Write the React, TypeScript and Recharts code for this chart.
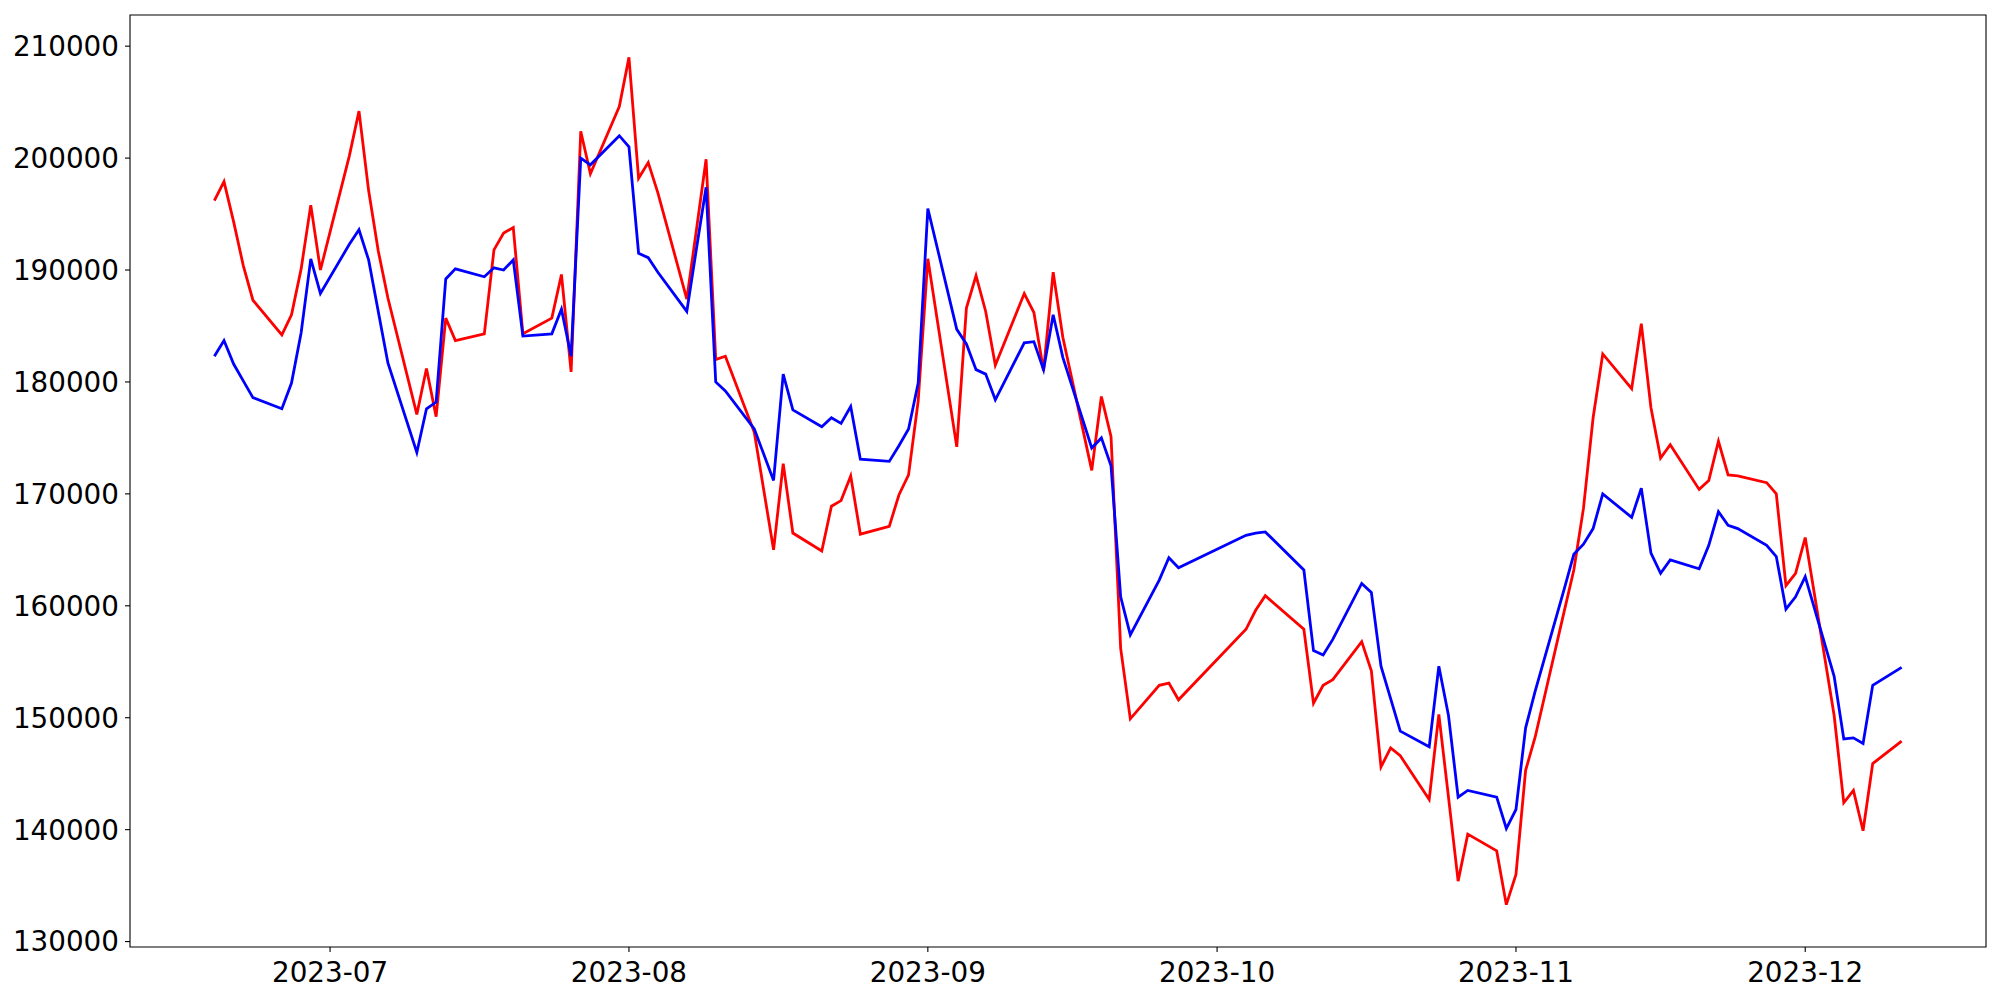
import { LineChart, Line, XAxis, YAxis, ReferenceArea } from "recharts"

// trading days (KRX calendar: no Aug 15, Sep 28-29, Oct 2-3, Oct 9)
const dates = [
  "2023-06-19", "2023-06-20", "2023-06-21", "2023-06-22", "2023-06-23",
  "2023-06-26", "2023-06-27", "2023-06-28", "2023-06-29", "2023-06-30",
  "2023-07-03", "2023-07-04", "2023-07-05", "2023-07-06", "2023-07-07",
  "2023-07-10", "2023-07-11", "2023-07-12", "2023-07-13", "2023-07-14",
  "2023-07-17", "2023-07-18", "2023-07-19", "2023-07-20", "2023-07-21",
  "2023-07-24", "2023-07-25", "2023-07-26", "2023-07-27", "2023-07-28",
  "2023-07-31", "2023-08-01", "2023-08-02", "2023-08-03", "2023-08-04",
  "2023-08-07", "2023-08-08", "2023-08-09", "2023-08-10", "2023-08-11",
  "2023-08-14", "2023-08-16", "2023-08-17", "2023-08-18",
  "2023-08-21", "2023-08-22", "2023-08-23", "2023-08-24", "2023-08-25",
  "2023-08-28", "2023-08-29", "2023-08-30", "2023-08-31", "2023-09-01",
  "2023-09-04", "2023-09-05", "2023-09-06", "2023-09-07", "2023-09-08",
  "2023-09-11", "2023-09-12", "2023-09-13", "2023-09-14", "2023-09-15",
  "2023-09-18", "2023-09-19", "2023-09-20", "2023-09-21", "2023-09-22",
  "2023-09-25", "2023-09-26", "2023-09-27",
  "2023-10-04", "2023-10-05", "2023-10-06",
  "2023-10-10", "2023-10-11", "2023-10-12", "2023-10-13",
  "2023-10-16", "2023-10-17", "2023-10-18", "2023-10-19", "2023-10-20",
  "2023-10-23", "2023-10-24", "2023-10-25", "2023-10-26", "2023-10-27",
  "2023-10-30", "2023-10-31", "2023-11-01", "2023-11-02", "2023-11-03",
  "2023-11-06", "2023-11-07", "2023-11-08", "2023-11-09", "2023-11-10",
  "2023-11-13", "2023-11-14", "2023-11-15", "2023-11-16", "2023-11-17",
  "2023-11-20", "2023-11-21", "2023-11-22", "2023-11-23", "2023-11-24",
  "2023-11-27", "2023-11-28", "2023-11-29", "2023-11-30", "2023-12-01",
  "2023-12-04", "2023-12-05", "2023-12-06", "2023-12-07", "2023-12-08",
  "2023-12-11",
]

const redValues = [
  196200, 197900, 194300, 190400, 187300,
  184200, 186000, 190100, 195800, 190000,
  200200, 204200, 197100, 191700, 187500,
  177100, 181200, 176900, 185700, 183700,
  184300, 191800, 193300, 193800, 184300,
  185700, 189600, 180900, 202400, 198600,
  204600, 209000, 198200, 199600, 196900,
  187400, 193600, 199900, 182000, 182300,
  175500, 165000, 172700, 166500,
  164900, 168900, 169400, 171600, 166400,
  167100, 169900, 171700, 178300, 191000,
  174200, 186600, 189500, 186300, 181500,
  187900, 186200, 181000, 189800, 184000,
  172100, 178700, 175100, 156200, 149900,
  152900, 153100, 151600,
  157900, 159600, 160900,
  157900, 151300, 152900, 153400,
  156800, 154200, 145600, 147300, 146600,
  142700, 150300, 142900, 135400, 139600,
  138100, 133300, 136000, 145300, 148300,
  159500, 163200, 168700, 176800, 182500,
  179400, 185200, 177700, 173200, 174400,
  170400, 171200, 174700, 171700, 171600,
  171000, 170000, 161800, 162900, 166100,
  150200, 142400, 143500, 139900, 145900,
  147900,
]

const blueValues = [
  182300, 183700, 181600, 180100, 178600,
  177600, 179900, 184400, 191000, 187900,
  192300, 193600, 190900, 186300, 181700,
  173700, 177600, 178200, 189200, 190100,
  189400, 190200, 190000, 190900, 184100,
  184300, 186500, 182300, 200000, 199400,
  202000, 201000, 191500, 191100, 189800,
  186300, 191900, 197400, 180000, 179200,
  175800, 171200, 180700, 177500,
  176000, 176800, 176300, 177800, 173100,
  172900, 174300, 175800, 179900, 195500,
  184700, 183400, 181100, 180700, 178400,
  183500, 183600, 181100, 186000, 182200,
  174100, 175000, 172500, 160800, 157400,
  162300, 164300, 163400,
  166300, 166500, 166600,
  163200, 156000, 155600, 157000,
  162000, 161200, 154600, 151700, 148800,
  147400, 154600, 150200, 142900, 143500,
  142900, 140100, 141800, 149100, 152400,
  161500, 164600, 165500, 166900, 170000,
  167900, 170500, 164700, 162900, 164100,
  163300, 165400, 168400, 167200, 166900,
  165400, 164400, 159700, 160800, 162600,
  153700, 148100, 148200, 147700, 152900,
  154500,
]

const monthTicks = ["2023-07", "2023-08", "2023-09", "2023-10", "2023-11", "2023-12"]
const yTicks = [130000, 140000, 150000, 160000, 170000, 180000, 190000, 200000, 210000]

const toTs = (s: string) => Date.parse(s.length === 7 ? `${s}-01` : s)

// matplotlib-style 5% margins on both axes
const padded = (lo: number, hi: number): [number, number] => {
  const m = (hi - lo) * 0.05
  return [lo - m, hi + m]
}

const data = dates.map((d, i) => ({ ts: toTs(d), red: redValues[i], blue: blueValues[i] }))
const allValues = [...redValues, ...blueValues]
const xDomain = padded(data[0].ts, data[data.length - 1].ts)
const yDomain = padded(Math.min(...allValues), Math.max(...allValues))
const xTicks = monthTicks.map(toTs)

const tickFont = { fill: "#000", fontSize: 27.8, fontFamily: "DejaVu Sans" }

export default function App() {
  return (
    <div style={{ position: "fixed", left: 0, top: 0, width: 2000, height: 1000, background: "#fff" }}>
      <LineChart width={2000} height={1000} data={data} margin={{ top: 15, right: 14, bottom: 0, left: 0 }}>
        <XAxis
          dataKey="ts"
          type="number"
          domain={xDomain}
          allowDataOverflow
          ticks={xTicks}
          tickFormatter={(v) => new Date(v).toISOString().slice(0, 7)}
          height={53}
          tickSize={5}
          tickMargin={10}
          axisLine={false}
          tickLine={{ stroke: "#000", strokeWidth: 1.1 }}
          tick={tickFont}
          interval={0}
        />
        <YAxis
          type="number"
          domain={yDomain}
          allowDataOverflow
          ticks={yTicks}
          tickFormatter={(v) => String(v)}
          width={130}
          tickSize={5}
          tickMargin={6}
          axisLine={false}
          tickLine={{ stroke: "#000", strokeWidth: 1.1 }}
          tick={tickFont}
          interval={0}
        />
        <ReferenceArea
          x1={xDomain[0]}
          x2={xDomain[1]}
          y1={yDomain[0]}
          y2={yDomain[1]}
          fill="none"
          stroke="#000"
          strokeWidth={1.1}
        />
        <Line dataKey="red" stroke="#ff0000" strokeWidth={2.8} dot={false} isAnimationActive={false} />
        <Line dataKey="blue" stroke="#0000ff" strokeWidth={2.8} dot={false} isAnimationActive={false} />
      </LineChart>
    </div>
  )
}
